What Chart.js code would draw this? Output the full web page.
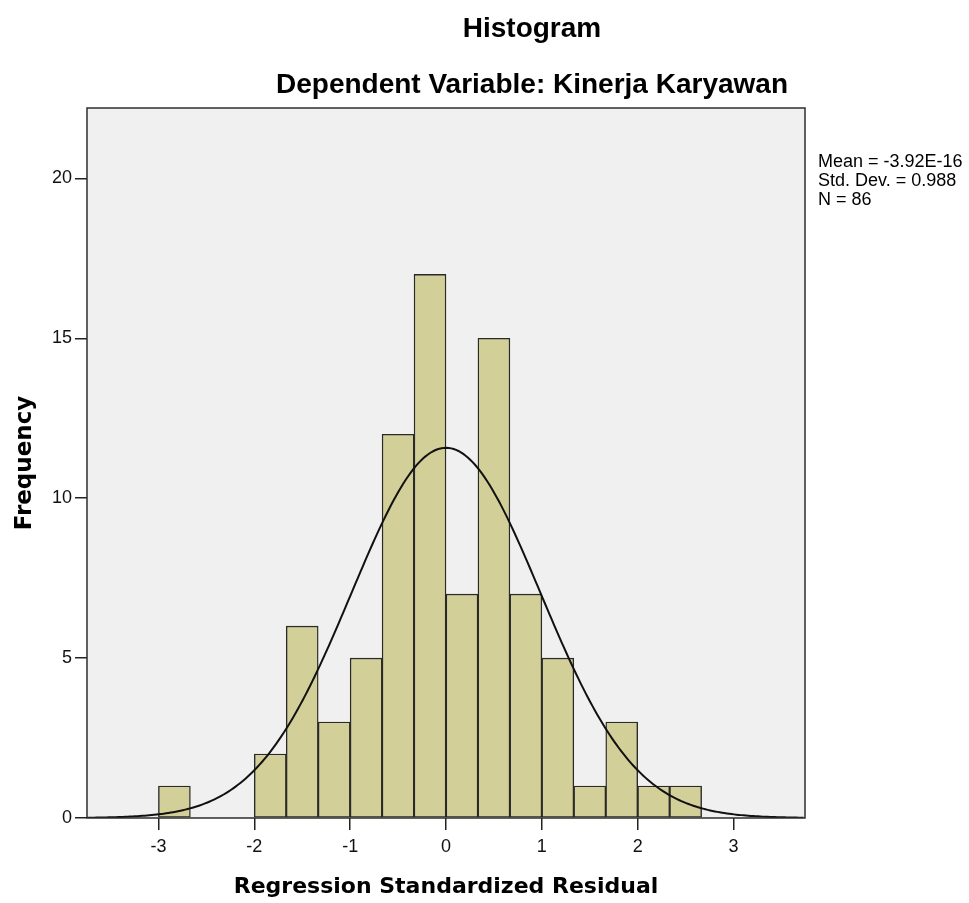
<!DOCTYPE html>
<html>
<head>
<meta charset="utf-8">
<title>Histogram</title>
<script src="https://cdn.jsdelivr.net/npm/chart.js@4/dist/chart.umd.min.js"></script>
<style>
  html, body { margin: 0; padding: 0; background: #fff; }
  #wrap { position: relative; width: 969px; height: 903px; }
</style>
</head>
<body>
<div id="wrap"><canvas id="histChart"></canvas></div>
<script>
// residual bins, width 1/3, given by their left edge
const binWidth = 1 / 3;
const binStarts = [-3, -8 / 3, -7 / 3, -2, -5 / 3, -4 / 3, -1, -2 / 3, -1 / 3, 0, 1 / 3, 2 / 3, 1, 4 / 3, 5 / 3, 2, 7 / 3];
const binCounts = [1, 0, 0, 2, 6, 3, 5, 12, 17, 7, 15, 7, 5, 1, 3, 1, 1];

const xTicks = [-3, -2, -1, 0, 1, 2, 3];
const yTicks = [0, 5, 10, 15, 20];

const statMean = -3.92e-16;
const statSd = 0.988;
const statN = 86;
const statLines = ["Mean = -3.92E-16", "Std. Dev. = 0.988", "N = 86"];

const xMin = -3.745, xMax = 3.745;
const yMax = 22.2;

const barData = binStarts.map((s, i) => ({ x: s + binWidth / 2, y: binCounts[i] }));

// fitted normal curve, scaled to counts per bin
const curveData = [];
for (let x = xMin; x <= xMax + 1e-9; x += 0.025) {
  const z = (x - statMean) / statSd;
  const y = statN * binWidth * Math.exp(-0.5 * z * z) / (statSd * Math.sqrt(2 * Math.PI));
  curveData.push({ x, y });
}

const plotFrame = {
  id: "plotFrame",
  beforeDatasetsDraw(chart) {
    const { ctx, chartArea: a } = chart;
    ctx.save();
    ctx.fillStyle = "#f0f0f0";
    ctx.fillRect(a.left, a.top, a.right - a.left, a.bottom - a.top);
    ctx.restore();
  },
  afterDraw(chart) {
    const { ctx, chartArea: a } = chart;
    ctx.save();
    ctx.strokeStyle = "#2e2e2e";
    ctx.lineWidth = 1.5;
    ctx.strokeRect(a.left, a.top, a.right - a.left, a.bottom - a.top);

    ctx.fillStyle = "#000";
    ctx.textAlign = "center";
    ctx.textBaseline = "alphabetic";
    ctx.font = "bold 28px 'Liberation Sans', Arial, sans-serif";
    ctx.fillText("Histogram", 532, 37);
    ctx.fillText("Dependent Variable: Kinerja Karyawan", 532, 93);

    ctx.textAlign = "left";
    ctx.textBaseline = "middle";
    ctx.font = "18px 'Liberation Sans', Arial, sans-serif";
    statLines.forEach((t, i) => ctx.fillText(t, 818, 162 + i * 19));
    ctx.restore();
  }
};

const ctx = document.getElementById("histChart").getContext("2d");
new Chart(ctx, {
  type: "bar",
  data: {
    datasets: [
      {
        type: "line",
        data: curveData,
        borderColor: "#111",
        borderWidth: 2,
        pointRadius: 0,
        tension: 0,
        order: 0
      },
      {
        type: "bar",
        data: barData,
        backgroundColor: "#d3cf98",
        borderColor: "#2a2a2a",
        borderWidth: (c) => (c.raw && c.raw.y > 0 ? 1.4 : 0),
        borderSkipped: false,
        barPercentage: 1,
        categoryPercentage: 1,
        order: 1
      }
    ]
  },
  options: {
    responsive: true,
    maintainAspectRatio: false,
    animation: false,
    events: [],
    layout: { padding: { left: 0, top: 108, right: 164, bottom: 0 } },
    plugins: { legend: { display: false }, tooltip: { enabled: false } },
    scales: {
      x: {
        type: "linear",
        offset: false,
        min: xMin,
        max: xMax,
        afterFit: (s) => { s.height = 85; },
        afterBuildTicks: (s) => { s.ticks = xTicks.map((v) => ({ value: v })); },
        grid: { offset: false, drawOnChartArea: false, drawTicks: true, tickLength: 12, color: "#222", lineWidth: 1.5 },
        border: { display: false },
        ticks: {
          color: "#111",
          padding: 6,
          font: { family: "'Liberation Sans', Arial, sans-serif", size: 18 }
        },
        title: {
          display: true,
          text: "Regression Standardized Residual",
          color: "#000",
          padding: { top: 0, bottom: 3 },
          font: { family: "'DejaVu Sans', sans-serif", size: 22, weight: "bold" }
        }
      },
      y: {
        min: 0,
        max: yMax,
        afterFit: (s) => { s.width = 87; },
        afterBuildTicks: (s) => { s.ticks = yTicks.map((v) => ({ value: v })); },
        grid: { drawOnChartArea: false, drawTicks: true, tickLength: 12, color: "#222", lineWidth: 1.5 },
        border: { display: false },
        ticks: {
          color: "#111",
          padding: 3,
          font: { family: "'Liberation Sans', Arial, sans-serif", size: 18 }
        },
        title: {
          display: true,
          text: "Frequency",
          color: "#000",
          padding: { top: 11, bottom: 0 },
          font: { family: "'DejaVu Sans', sans-serif", size: 23, weight: "bold" }
        }
      }
    }
  },
  plugins: [plotFrame]
});
</script>
</body>
</html>
